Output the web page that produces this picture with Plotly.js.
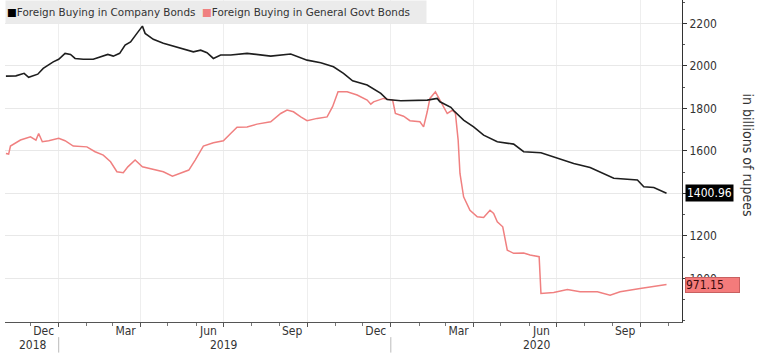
<!DOCTYPE html>
<html>
<head>
<meta charset="utf-8">
<script src="https://cdn.plot.ly/plotly-3.0.1.min.js"></script>
<style>html,body{margin:0;padding:0;background:#fff;}#chart{width:760px;height:356px;}</style>
</head>
<body>
<div id="chart"></div>
<script>
// Foreign Buying in Company Bonds (billions of rupees)
const companyDates = ['2018-11-04','2018-11-15','2018-11-24','2018-11-29','2018-12-09','2018-12-15','2018-12-26','2019-01-01','2019-01-08','2019-01-14','2019-01-19','2019-01-28','2019-02-08','2019-02-16','2019-02-24','2019-03-02','2019-03-09','2019-03-15','2019-03-21','2019-03-28','2019-04-03','2019-04-06','2019-04-15','2019-04-26','2019-05-07','2019-05-18','2019-05-29','2019-06-06','2019-06-13','2019-06-20','2019-06-28','2019-07-09','2019-07-27','2019-08-22','2019-09-13','2019-10-01','2019-10-16','2019-10-30','2019-11-10','2019-11-20','2019-12-06','2019-12-21','2019-12-28','2020-01-12','2020-01-26','2020-02-10','2020-02-21','2020-02-24','2020-03-07','2020-03-10','2020-03-21','2020-04-01','2020-04-12','2020-04-27','2020-05-15','2020-05-26','2020-06-14','2020-07-02','2020-07-20','2020-08-07','2020-08-22','2020-09-02','2020-09-28','2020-10-05','2020-10-16','2020-10-30'];
const companyValues = [1952,1953,1965,1946,1961,1988,2019,2031,2059,2054,2035,2031,2031,2043,2054,2046,2059,2098,2113,2153,2187,2153,2125,2106,2093,2082,2066,2074,2062,2035,2051,2051,2059,2046,2056,2027,2015,1996,1965,1930,1910,1871,1842,1836,1839,1839,1847,1831,1805,1790,1745,1713,1674,1643,1632,1596,1591,1565,1541,1522,1494,1471,1463,1431,1428,1400.96];

// Foreign Buying in General Govt Bonds (billions of rupees)
const govtDates = ['2018-11-04','2018-11-07','2018-11-09','2018-11-20','2018-12-01','2018-12-07','2018-12-10','2018-12-14','2018-12-21','2019-01-01','2019-01-08','2019-01-17','2019-02-01','2019-02-10','2019-02-19','2019-02-27','2019-03-06','2019-03-13','2019-03-18','2019-03-26','2019-04-03','2019-04-15','2019-04-26','2019-05-06','2019-05-15','2019-05-24','2019-05-31','2019-06-09','2019-06-20','2019-07-01','2019-07-09','2019-07-16','2019-07-27','2019-08-07','2019-08-22','2019-09-02','2019-09-09','2019-09-16','2019-09-24','2019-10-01','2019-10-12','2019-10-23','2019-10-29','2019-11-04','2019-11-14','2019-11-25','2019-12-06','2019-12-10','2019-12-13','2019-12-24','2020-01-03','2020-01-06','2020-01-15','2020-01-22','2020-02-02','2020-02-06','2020-02-10','2020-02-13','2020-02-19','2020-02-24','2020-03-03','2020-03-09','2020-03-12','2020-03-15','2020-03-17','2020-03-21','2020-03-28','2020-04-05','2020-04-12','2020-04-19','2020-04-23','2020-04-27','2020-05-03','2020-05-08','2020-05-15','2020-05-26','2020-06-02','2020-06-12','2020-06-14','2020-06-28','2020-07-13','2020-07-27','2020-08-15','2020-08-29','2020-09-09','2020-10-01','2020-10-16','2020-10-30'];
const govtValues = [1588,1585,1623,1651,1666,1651,1682,1643,1648,1659,1648,1623,1619,1596,1580,1549,1502,1497,1525,1557,1525,1513,1502,1481,1497,1510,1557,1623,1638,1648,1682,1711,1713,1726,1737,1776,1792,1784,1760,1742,1753,1760,1808,1878,1878,1863,1839,1820,1831,1847,1839,1776,1763,1742,1737,1713,1784,1847,1878,1839,1776,1792,1776,1651,1494,1384,1321,1290,1287,1321,1306,1266,1243,1133,1118,1120,1110,1102,929,934,948,937,937,921,937,953,964,971.15];

// Axis labels
const quarterTicks = ['2019-01-01','2019-04-01','2019-07-01','2019-10-01','2020-01-01','2020-04-01','2020-07-01','2020-10-01'];
const quarterLabels = ['Dec','Mar','Jun','Sep','Dec','Mar','Jun','Sep'];
const yTicks = [1000,1200,1400,1600,1800,2000,2200];
const yTickLabels = ['1000','1200','','1600','1800','2000','2200']; // 1400 is hidden behind the last-value tag
const years = ['2018','2019','2020'];
const yearLabelDates = ['2018-12-04','2019-07-02','2020-06-10'];
const yearStarts = ['2019-01-01','2020-01-01'];
const seriesNames = ['Foreign Buying in Company Bonds','Foreign Buying in General Govt Bonds'];

const BLACK = '#1e1e1e';
const RED = '#f08080';
const FONT = 'DejaVu Sans Condensed, DejaVu Sans, sans-serif';

const traces = [
  {x: govtDates, y: govtValues, type: 'scatter', mode: 'lines', name: seriesNames[1],
   line: {color: RED, width: 1.5}, hoverinfo: 'skip'},
  {x: companyDates, y: companyValues, type: 'scatter', mode: 'lines', name: seriesNames[0],
   line: {color: BLACK, width: 1.6}, hoverinfo: 'skip'}
];

const annotations = [];
years.forEach((yr, i) => {
  annotations.push({xref: 'x', yref: 'paper', x: yearLabelDates[i], y: -0.071, text: yr,
    showarrow: false, xanchor: 'center', yanchor: 'middle', font: {family: FONT, size: 12, color: '#333'}});
});
annotations.push({
  xref: 'paper', yref: 'paper', x: 0, y: 1, xanchor: 'left', yanchor: 'top',
  text: '<span style="color:#000">■</span>' + seriesNames[0] + '  <span style="color:' + RED + '">■</span>' + seriesNames[1],
  showarrow: false, bgcolor: '#ebebeb', width: 418, height: 20, align: 'left', borderpad: 1,
  font: {family: 'DejaVu Sans, sans-serif', size: 10.4, color: '#333'}
});
const lastC = companyValues[companyValues.length - 1];
const lastG = govtValues[govtValues.length - 1];
annotations.push({xref: 'paper', yref: 'y', x: 1, y: lastC, xanchor: 'left', yanchor: 'middle', xshift: 3,
  text: lastC.toFixed(2), showarrow: false, bgcolor: '#000', borderpad: 1,
  font: {family: FONT, size: 12, color: '#fff'}});
annotations.push({xref: 'paper', yref: 'y', x: 1, y: lastG, xanchor: 'left', yanchor: 'middle', xshift: 3,
  text: lastG.toFixed(2), showarrow: false, bgcolor: '#f47b7b', bordercolor: '#c86060', borderwidth: 1, borderpad: 0,
  width: 53, align: 'left', font: {family: FONT, size: 12, color: '#3a0a0a'}});
annotations.push({xref: 'paper', yref: 'paper', x: 1, y: 0.52, xanchor: 'center', yanchor: 'middle', xshift: 66,
  text: 'in billions of rupees', textangle: 90, showarrow: false,
  font: {family: FONT, size: 14, color: '#333'}});

const shapes = yearStarts.map(d => ({type: 'line', xref: 'x', yref: 'paper', x0: d, x1: d, y0: -0.047, y1: -0.095,
  line: {color: '#bbb', width: 1}}));

const layout = {
  width: 760, height: 356,
  margin: {l: 5, r: 78, t: 0, b: 34, pad: 0},
  paper_bgcolor: '#fff', plot_bgcolor: '#fff',
  font: {family: FONT, size: 12, color: '#333'},
  showlegend: false,
  xaxis: {
    type: 'date', range: ['2018-11-03', '2020-11-16'],
    tickmode: 'array', tickvals: quarterTicks, ticktext: quarterLabels, ticklabelshift: -15, ticklabelstandoff: -6,
    showgrid: true, gridcolor: '#eeeeee', gridwidth: 1,
    ticks: 'outside', ticklen: 4, tickcolor: '#555',
    showline: true, linecolor: '#555', linewidth: 1, zeroline: false,
    minor: {ticks: 'outside', ticklen: 3, dtick: 'M1', tick0: '2018-11-01', tickcolor: '#777', showgrid: false},
    tickfont: {family: FONT, size: 12, color: '#333'}
  },
  yaxis: {
    side: 'right', range: [795, 2310], tickmode: 'array', tickvals: yTicks, ticktext: yTickLabels,
    showgrid: true, gridcolor: '#e8e8e8', gridwidth: 1,
    ticks: 'outside', ticklen: 4, tickcolor: '#333',
    showline: true, linecolor: '#333', linewidth: 1, zeroline: false,
    minor: {tickmode: 'linear', tick0: 0, dtick: 100, ticks: 'outside', ticklen: 2, tickcolor: '#555', showgrid: false},
    tickfont: {family: FONT, size: 12, color: '#333'}
  },
  annotations: annotations,
  shapes: shapes
};

Plotly.newPlot('chart', traces, layout, {displayModeBar: false, staticPlot: true});
</script>
</body>
</html>
